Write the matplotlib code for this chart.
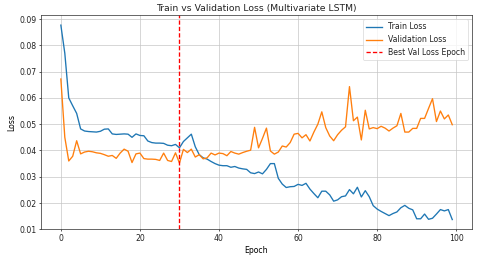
import matplotlib
matplotlib.use("Agg")
import matplotlib.pyplot as plt
import numpy as np

epochs = list(range(100))

train_loss = [
    0.0877, 0.0770, 0.0600, 0.0570, 0.0541, 0.0482, 0.0474, 0.0472, 0.0471, 0.0470,
    0.0473, 0.0481, 0.0482, 0.0463, 0.0461, 0.0462, 0.0463, 0.0462, 0.0450, 0.0463,
    0.0457, 0.0456, 0.0436, 0.0430, 0.0428, 0.0428, 0.0427, 0.0420, 0.0418, 0.0423,
    0.0410, 0.0434, 0.0448, 0.0462, 0.0414, 0.0384, 0.0372, 0.0367, 0.0358, 0.0350,
    0.0344, 0.0342, 0.0342, 0.0336, 0.0339, 0.0333, 0.0330, 0.0328, 0.0315, 0.0312,
    0.0318, 0.0311, 0.0328, 0.0350, 0.0350, 0.0294, 0.0272, 0.0259, 0.0262, 0.0263,
    0.0271, 0.0267, 0.0275, 0.0253, 0.0236, 0.0220, 0.0245, 0.0245, 0.0231, 0.0207,
    0.0212, 0.0224, 0.0227, 0.0251, 0.0235, 0.0260, 0.0223, 0.0247, 0.0224, 0.0190,
    0.0177, 0.0168, 0.0160, 0.0152, 0.0160, 0.0166, 0.0182, 0.0191, 0.0180, 0.0174,
    0.0140, 0.0140, 0.0158, 0.0138, 0.0142, 0.0158, 0.0175, 0.0170, 0.0175, 0.0137,
]

val_loss = [
    0.0672, 0.0450, 0.0360, 0.0378, 0.0437, 0.0387, 0.0394, 0.0397, 0.0395, 0.0391,
    0.0389, 0.0384, 0.0378, 0.0381, 0.0370, 0.0390, 0.0405, 0.0397, 0.0354, 0.0387,
    0.0390, 0.0369, 0.0367, 0.0367, 0.0366, 0.0362, 0.0390, 0.0362, 0.0358, 0.0391,
    0.0352, 0.0404, 0.0392, 0.0405, 0.0375, 0.0384, 0.0368, 0.0372, 0.0390, 0.0383,
    0.0390, 0.0388, 0.0380, 0.0396, 0.0390, 0.0386, 0.0392, 0.0397, 0.0401, 0.0488,
    0.0410, 0.0446, 0.0485, 0.0398, 0.0386, 0.0394, 0.0417, 0.0413, 0.0430, 0.0462,
    0.0465, 0.0448, 0.0460, 0.0436, 0.0470, 0.0500, 0.0547, 0.0487, 0.0455, 0.0437,
    0.0460, 0.0477, 0.0490, 0.0643, 0.0513, 0.0527, 0.0440, 0.0553, 0.0482, 0.0487,
    0.0483, 0.0492, 0.0485, 0.0474, 0.0485, 0.0494, 0.0541, 0.0470, 0.0470, 0.0484,
    0.0484, 0.0522, 0.0522, 0.0560, 0.0597, 0.0510, 0.0550, 0.0520, 0.0535, 0.0498,
]

best_epoch = 30

plt.rcParams["font.size"] = 11.6
plt.rcParams["axes.linewidth"] = 1.1
plt.rcParams["grid.linewidth"] = 1.0
plt.rcParams["grid.color"] = "#c4c4c4"
plt.rcParams["xtick.major.width"] = 1.1
plt.rcParams["ytick.major.width"] = 1.1
plt.rcParams["text.color"] = "#222222"
plt.rcParams["xtick.color"] = "#222222"
plt.rcParams["ytick.color"] = "#222222"
plt.rcParams["axes.edgecolor"] = "#333333"

fig = plt.figure(figsize=(10, 5.4375), dpi=48)
ax = fig.add_axes([0.086, 0.1215, 0.897, 0.8195])
ax.plot(epochs, train_loss, label="Train Loss", linewidth=2.0)
ax.plot(epochs, val_loss, label="Validation Loss", linewidth=2.0)
ax.axvline(best_epoch, color="red", linestyle=(0, (3.2, 1.6)), linewidth=2.0,
           label="Best Val Loss Epoch")
ax.set_title("Train vs Validation Loss (Multivariate LSTM)")
ax.set_xlabel("Epoch")
ax.set_ylabel("Loss")
ax.legend(loc="upper right")
ax.grid(True)
fig.savefig("out.png", dpi=48)
